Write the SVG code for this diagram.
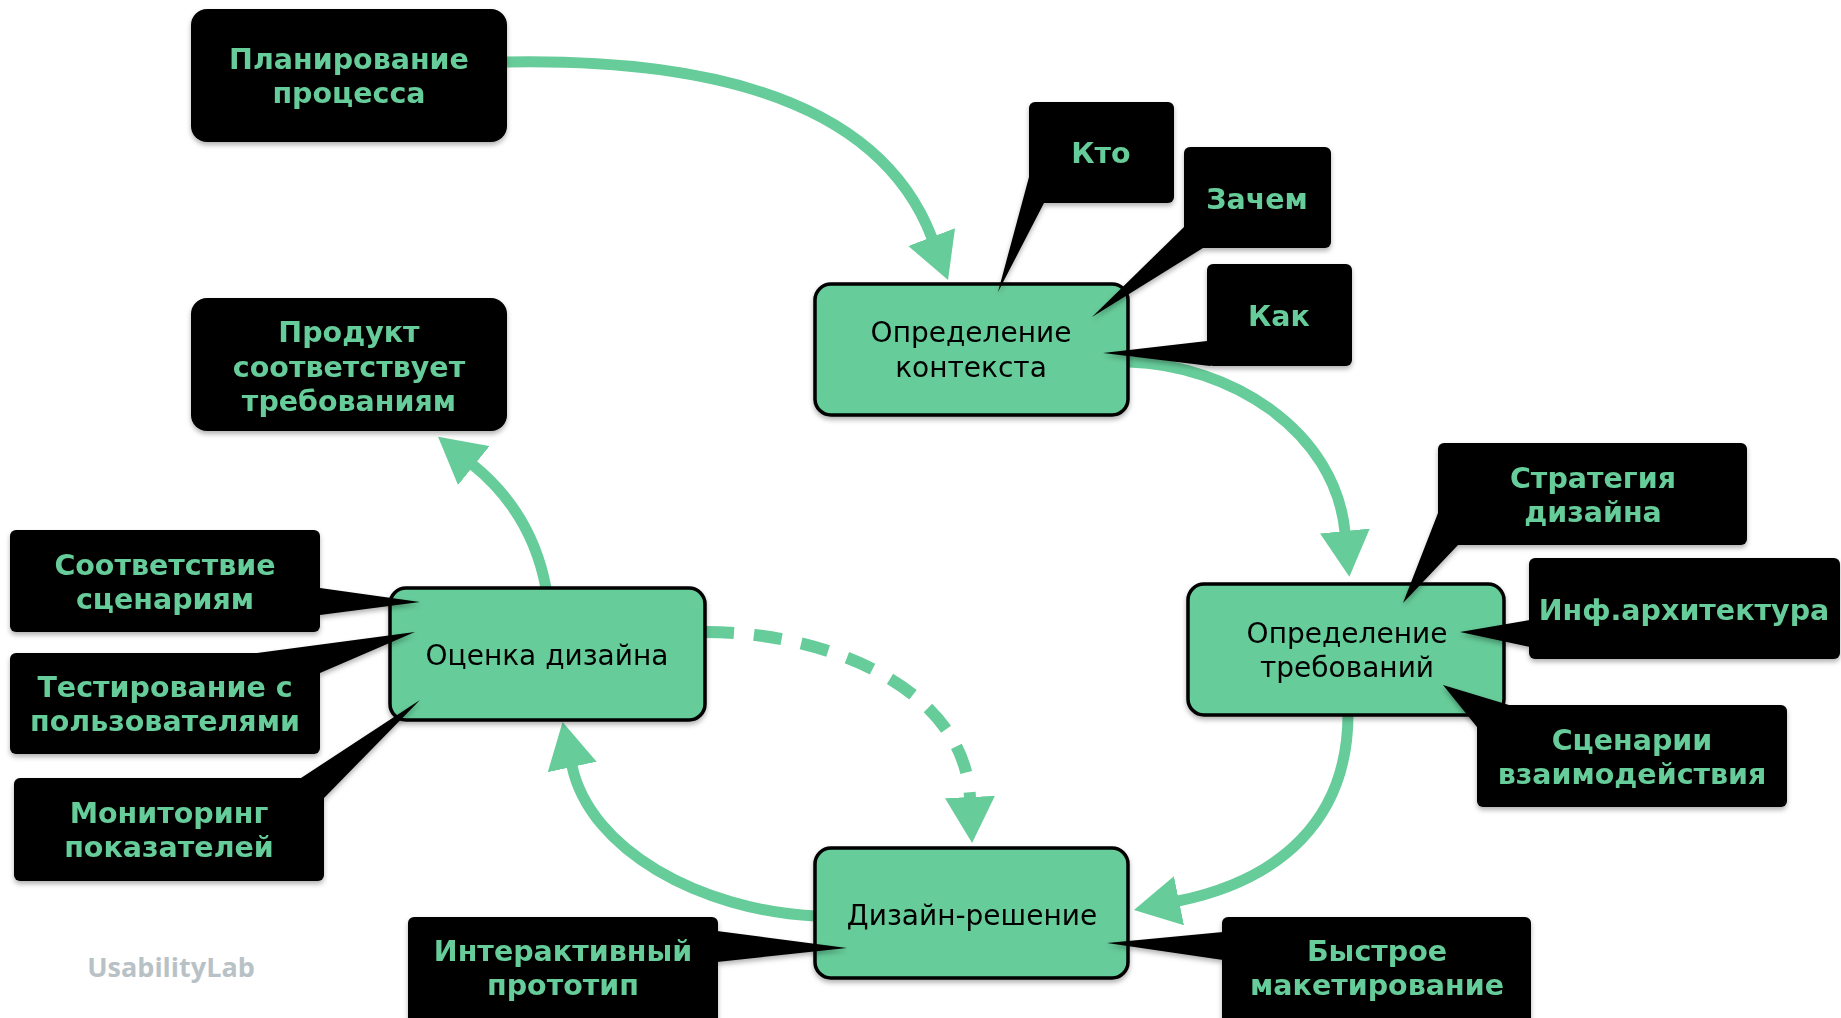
<svg xmlns="http://www.w3.org/2000/svg" width="1841" height="1018" viewBox="0 0 1841 1018">
<defs>
  <style>
    .box { fill: #000; }
    .node { fill: #66CC99; stroke: #000; stroke-width: 3.5; }
    .lbl { font-family: "DejaVu Sans", Verdana, sans-serif; font-weight: bold; font-size: 28.5px; fill: #66CC99; text-anchor: middle; }
    .nt { font-family: "DejaVu Sans", Verdana, sans-serif; font-size: 28px; fill: #000; text-anchor: middle; }
    .conn { fill: none; stroke: #66CC99; stroke-width: 11; marker-end: url(#ah); }
    .dash { stroke-dasharray: 28 20; stroke-width: 12; }
    .logo { font-family: "Open Sans", Lato, sans-serif; font-weight: bold; font-size: 27px; fill: #B8C2C6; text-anchor: middle; }
  </style>
  <marker id="ah" viewBox="0 0 46 50" refX="1" refY="25" markerWidth="46" markerHeight="50" markerUnits="userSpaceOnUse" orient="auto">
    <path d="M0,0 L46,25 L0,50 z" fill="#66CC99"/>
  </marker>
  <filter id="sh" x="-10%" y="-10%" width="120%" height="130%">
    <feDropShadow dx="0" dy="3" stdDeviation="2.5" flood-color="#000" flood-opacity="0.3"/>
  </filter>
</defs>
<rect width="1841" height="1018" fill="#fff"/>

<g id="connectors">
  <path class="conn" d="M507,62 C740,58 885,115 932,238"/>
  <path class="conn" d="M1129,362 C1230,365 1335,430 1345,532"/>
  <path class="conn" d="M1348,714 C1348,820 1280,880 1178,901"/>
  <path class="conn" d="M815,916 C700,910 590,850 572,766"/>
  <path class="conn" d="M546,588 C536,535 510,495 473,465"/>
  <path class="conn dash" d="M706,632 C830,632 965,690 970,798"/>
</g>

<g id="planirovanie" filter="url(#sh)">
  <rect class="box" x="191" y="9" width="316" height="133" rx="16"/>
  <text class="lbl" x="349" y="69">Планирование</text>
  <text class="lbl" x="349" y="103">процесса</text>
</g>

<g id="produkt" filter="url(#sh)">
  <rect class="box" x="191" y="298" width="316" height="133" rx="16"/>
  <text class="lbl" x="349" y="342">Продукт</text>
  <text class="lbl" x="349" y="377">соответствует</text>
  <text class="lbl" x="349" y="411">требованиям</text>
</g>

<g id="opredelenie-konteksta" filter="url(#sh)">
  <rect class="node" x="815" y="284" width="313" height="131" rx="16"/>
  <text class="nt" x="971" y="342">Определение</text>
  <text class="nt" x="971" y="377">контекста</text>
</g>

<g id="opredelenie-trebovaniy" filter="url(#sh)">
  <rect class="node" x="1188" y="584" width="316" height="131" rx="16"/>
  <text class="nt" x="1347" y="643">Определение</text>
  <text class="nt" x="1347" y="677">требований</text>
</g>

<g id="dizayn-reshenie" filter="url(#sh)">
  <rect class="node" x="815" y="848" width="313" height="130" rx="16"/>
  <text class="nt" x="972" y="925">Дизайн-решение</text>
</g>

<g id="otsenka-dizayna" filter="url(#sh)">
  <rect class="node" x="390" y="588" width="315" height="132" rx="16"/>
  <text class="nt" x="547" y="665">Оценка дизайна</text>
</g>

<g id="kto" filter="url(#sh)">
  <rect class="box" x="1029" y="102" width="145" height="101" rx="6"/>
  <polygon class="box" points="998,292 1029,177 1045,178 1052,197 1044,203"/>
  <text class="lbl" x="1101" y="163">Кто</text>
</g>

<g id="zachem" filter="url(#sh)">
  <rect class="box" x="1184" y="147" width="147" height="101" rx="6"/>
  <polygon class="box" points="1092,317 1184,227 1195,225 1210,240 1203,248"/>
  <text class="lbl" x="1257" y="209">Зачем</text>
</g>

<g id="kak" filter="url(#sh)">
  <rect class="box" x="1207" y="264" width="145" height="102" rx="6"/>
  <polygon class="box" points="1103,353 1207,341 1218,341 1218,360 1210,366"/>
  <text class="lbl" x="1279" y="326">Как</text>
</g>

<g id="strategiya" filter="url(#sh)">
  <rect class="box" x="1438" y="443" width="309" height="102" rx="6"/>
  <polygon class="box" points="1403,603 1438,513 1448,512 1465,538 1458,545"/>
  <text class="lbl" x="1593" y="488">Стратегия</text>
  <text class="lbl" x="1593" y="522">дизайна</text>
</g>

<g id="inf-arkhitektura" filter="url(#sh)">
  <rect class="box" x="1529" y="558" width="311" height="101" rx="6"/>
  <polygon class="box" points="1460,632 1530,620 1540,620 1540,647 1530,647"/>
  <text class="lbl" x="1684" y="620">Инф.архитектура</text>
</g>

<g id="stsenarii" filter="url(#sh)">
  <rect class="box" x="1477" y="705" width="310" height="102" rx="6"/>
  <polygon class="box" points="1443,685 1509,705 1505,714 1486,728 1477,727"/>
  <text class="lbl" x="1632" y="750">Сценарии</text>
  <text class="lbl" x="1632" y="784">взаимодействия</text>
</g>

<g id="sootvetstvie" filter="url(#sh)">
  <rect class="box" x="10" y="530" width="310" height="102" rx="6"/>
  <polygon class="box" points="420,602 320,588 310,588 310,615 320,615"/>
  <text class="lbl" x="165" y="575">Соответствие</text>
  <text class="lbl" x="165" y="609">сценариям</text>
</g>

<g id="testirovanie" filter="url(#sh)">
  <rect class="box" x="10" y="653" width="310" height="101" rx="6"/>
  <polygon class="box" points="257,653 415,632 320,673 310,675 262,662"/>
  <text class="lbl" x="165" y="697">Тестирование с</text>
  <text class="lbl" x="165" y="731">пользователями</text>
</g>

<g id="monitoring" filter="url(#sh)">
  <rect class="box" x="14" y="778" width="310" height="103" rx="6"/>
  <polygon class="box" points="301,778 420,700 324,798 314,800 300,786"/>
  <text class="lbl" x="169" y="823">Мониторинг</text>
  <text class="lbl" x="169" y="857">показателей</text>
</g>

<g id="interaktivny" filter="url(#sh)">
  <rect class="box" x="408" y="917" width="310" height="115" rx="6"/>
  <polygon class="box" points="847,948 717,931 708,931 708,962 717,962"/>
  <text class="lbl" x="563" y="961">Интерактивный</text>
  <text class="lbl" x="563" y="995">прототип</text>
</g>

<g id="bystroe" filter="url(#sh)">
  <rect class="box" x="1222" y="917" width="309" height="115" rx="6"/>
  <polygon class="box" points="1107,943 1223,932 1232,932 1232,960 1223,960"/>
  <text class="lbl" x="1377" y="961">Быстрое</text>
  <text class="lbl" x="1377" y="995">макетирование</text>
</g>

<text class="logo" x="171" y="977">UsabilityLab</text>
</svg>
